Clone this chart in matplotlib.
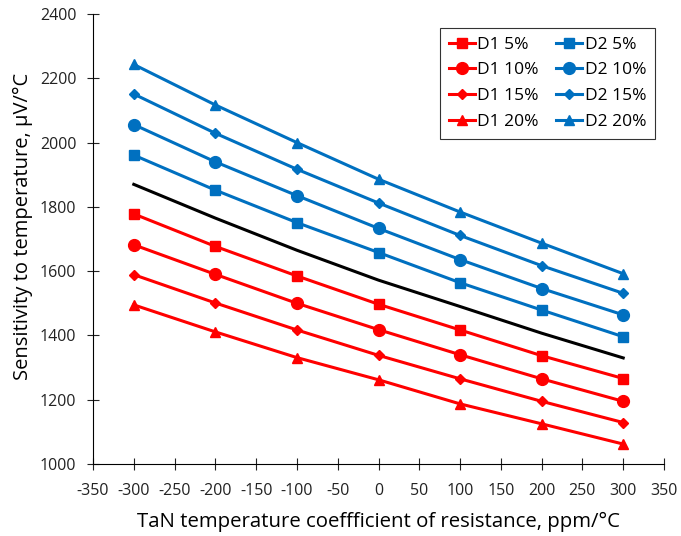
import matplotlib
matplotlib.use("Agg")
import matplotlib.pyplot as plt

plt.rcParams['font.family'] = ['Open Sans', 'DejaVu Sans']
plt.rcParams['axes.unicode_minus'] = False

tcr = [-300, -200, -100, 0, 100, 200, 300]

d1_5 = [1778, 1677, 1585, 1497, 1417, 1337, 1266]
d1_10 = [1682, 1590, 1500, 1418, 1340, 1265, 1195]
d1_15 = [1589, 1501, 1417, 1338, 1265, 1195, 1129]
d1_20 = [1495, 1411, 1331, 1262, 1187, 1125, 1062]
d2_5 = [1961, 1852, 1751, 1658, 1564, 1479, 1396]
d2_10 = [2056, 1940, 1835, 1733, 1636, 1546, 1464]
d2_15 = [2151, 2029, 1917, 1812, 1711, 1617, 1531]
d2_20 = [2243, 2117, 2000, 1886, 1784, 1687, 1592]
black = [1870, 1765, 1665, 1572, 1490, 1407, 1330]

labels_d1 = ["D1 5%", "D1 10%", "D1 15%", "D1 20%"]
labels_d2 = ["D2 5%", "D2 10%", "D2 15%", "D2 20%"]
markers = ["s", "o", "D", "^"]
msizes = [6.5, 8.5, 5.5, 7.5]

red = "#FF0000"
blue = "#0070C0"

fig = plt.figure(figsize=(6.81, 5.36), dpi=100)
ax = fig.add_axes([93/681, 72/536, (664-93)/681, (464-14)/536])

handles = []
for series, lab, m, ms in zip([d1_5, d1_10, d1_15, d1_20], labels_d1, markers, msizes):
    h, = ax.plot(tcr, series, color=red, lw=2.2, marker=m, ms=ms, label=lab)
    handles.append(h)
for series, lab, m, ms in zip([d2_5, d2_10, d2_15, d2_20], labels_d2, markers, msizes):
    h, = ax.plot(tcr, series, color=blue, lw=2.2, marker=m, ms=ms, label=lab)
    handles.append(h)
ax.plot(tcr, black, color="black", lw=2.2)

ax.set_xlim(-350, 350)
ax.set_ylim(1000, 2400)
ax.set_xticks(range(-350, 351, 50))
ax.set_yticks(range(1000, 2401, 200))
ax.tick_params(axis='both', direction='inout', length=8, width=0.8, labelsize=11.5, colors='#222222')
ax.tick_params(axis='x', pad=10)
ax.tick_params(axis='y', pad=8)
for s in ['top', 'right']:
    ax.spines[s].set_visible(False)
for s in ['left', 'bottom']:
    ax.spines[s].set_linewidth(0.8)

ax.set_xlabel("TaN temperature coeffficient of resistance, ppm/°C", fontsize=14.7, labelpad=9)
ax.set_ylabel("Sensitivity to temperature, µV/°C", fontsize=14.5, labelpad=5)
ax.yaxis.label.set_y(0.527)

leg = ax.legend(handles=handles, ncol=2, loc='upper right', bbox_to_anchor=(0.984, 0.969),
                borderaxespad=0, fontsize=12.5, frameon=True, fancybox=False, edgecolor='black',
                handlelength=1.5, handletextpad=0.15, columnspacing=1.0,
                labelspacing=0.55, borderpad=0.5)
leg.get_frame().set_linewidth(0.8)

fig.savefig("out.png", dpi=100)
